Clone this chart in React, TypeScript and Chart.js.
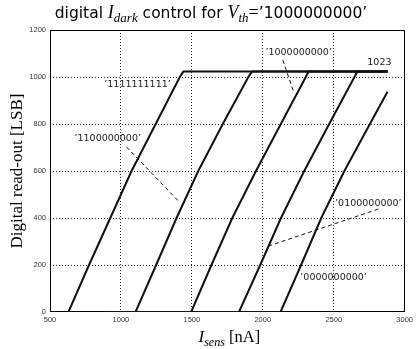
import { useEffect, useRef } from 'react';
import { Chart, registerables } from 'chart.js';

Chart.register(...registerables);

// ---- data (x: I_sens [nA], y: read-out [LSB]) ----
const seriesNames = ['1111111111', '1100000000', '1000000000', '0100000000', '0000000000'];
const c1X = [630, 775, 925, 1075, 1245, 1415, 1440, 2880];
const c1Y = [0, 200, 400, 600, 800, 1000, 1023, 1023];
const c2X = [890, 1103, 1248, 1392, 1545, 1718, 1898, 1924, 2880];
const c2Y = [0, 0, 200, 400, 600, 800, 1000, 1023, 1023];
const c3X = [890, 1495, 1638, 1785, 1952, 2127, 2303, 2323, 2880];
const c3Y = [0, 0, 200, 400, 600, 800, 1000, 1023, 1023];
const c4X = [890, 1832, 1982, 2128, 2292, 2468, 2646, 2667, 2880];
const c4Y = [0, 0, 200, 400, 600, 800, 1000, 1023, 1023];
const c5X = [890, 2125, 2270, 2412, 2575, 2755, 2879];
const c5Y = [0, 0, 200, 400, 600, 800, 937];

const xTicks = [500, 1000, 1500, 2000, 2500, 3000];
const yTicks = [0, 200, 400, 600, 800, 1000, 1200];

// annotation labels (data coords of text centre)
const labelTexts = ['’1111111111’', '’1100000000’', '’1000000000’', '’0100000000’', '’0000000000’', '1023'];
const labelX = [1117, 907, 2253, 2744, 2499, 2822];
const labelY = [966, 740, 1102, 460, 145, 1060];
// leader lines (data coords)
const leaderX1 = [1040, 2141, 2814];
const leaderY1 = [702, 1072, 438];
const leaderX2 = [1412, 2218, 2022];
const leaderY2 = [468, 936, 277];

const SANS = '"Liberation Sans", Arial, sans-serif';
const LABEL_SANS = '"DejaVu Sans", sans-serif';
const SERIF = '"Liberation Serif", "Times New Roman", serif';

const toPts = (xs: number[], ys: number[]) => xs.map((x, i) => ({ x, y: ys[i] }));

function drawParts(ctx: CanvasRenderingContext2D, parts: { t: string; f: string; dy: number }[], cx: number, baseline: number) {
  ctx.save();
  ctx.fillStyle = '#000';
  ctx.textAlign = 'left';
  ctx.textBaseline = 'alphabetic';
  let total = 0;
  const widths = parts.map((p) => {
    ctx.font = p.f;
    const w = ctx.measureText(p.t).width;
    total += w;
    return w;
  });
  let x = cx - total / 2;
  parts.forEach((p, i) => {
    ctx.font = p.f;
    ctx.fillText(p.t, x, baseline + p.dy);
    x += widths[i];
  });
  ctx.restore();
}

const textPlugin = {
  id: 'customText',
  beforeDatasetsDraw(chart: any) {
    const { ctx, chartArea: a } = chart;
    ctx.save();
    ctx.strokeStyle = '#000';
    ctx.lineWidth = 1;
    ctx.strokeRect(Math.round(a.left) + 0.5, Math.round(a.top) + 0.5, Math.round(a.right - a.left) - 1, Math.round(a.bottom - a.top) - 1);
    ctx.restore();
  },
  afterDatasetsDraw(chart: any) {
    const { ctx, chartArea: a } = chart;
    const xs = chart.scales.x;
    const ys = chart.scales.y;
    ctx.save();
    ctx.strokeStyle = '#111';
    ctx.lineWidth = 1;
    ctx.setLineDash([4, 3]);
    for (let i = 0; i < leaderX1.length; i++) {
      ctx.beginPath();
      ctx.moveTo(xs.getPixelForValue(leaderX1[i]), ys.getPixelForValue(leaderY1[i]));
      ctx.lineTo(xs.getPixelForValue(leaderX2[i]), ys.getPixelForValue(leaderY2[i]));
      ctx.stroke();
    }
    ctx.setLineDash([]);
    ctx.fillStyle = '#222';
    ctx.font = `9.5px ${LABEL_SANS}`;
    ctx.textAlign = 'center';
    ctx.textBaseline = 'middle';
    for (let i = 0; i < labelTexts.length; i++) {
      ctx.fillText(labelTexts[i], xs.getPixelForValue(labelX[i]), ys.getPixelForValue(labelY[i]));
    }
    ctx.restore();

    const parts = [
      { t: 'digital ', f: `15.5px ${LABEL_SANS}`, dy: 0 },
      { t: 'I', f: `italic 18px ${SERIF}`, dy: 0 },
      { t: 'dark', f: `italic 13px ${SERIF}`, dy: 4 },
      { t: ' control for ', f: `15.5px ${LABEL_SANS}`, dy: 0 },
      { t: 'V', f: `italic 18px ${SERIF}`, dy: 0 },
      { t: 'th', f: `italic 13px ${SERIF}`, dy: 4 },
      { t: '=', f: `18px ${SERIF}`, dy: 0 },
      { t: '’1000000000’', f: `15.5px ${LABEL_SANS}`, dy: 0 },
    ];
    drawParts(ctx, parts, 211, 18);

    const xparts = [
      { t: 'I', f: `italic 17px ${SERIF}`, dy: 0 },
      { t: 'sens', f: `italic 12px ${SERIF}`, dy: 4 },
      { t: ' [nA]', f: `16.5px ${SERIF}`, dy: 0 },
    ];
    drawParts(ctx, xparts, (a.left + a.right) / 2 + 2, 342);

    ctx.save();
    ctx.translate(22, (a.top + a.bottom) / 2);
    ctx.rotate(-Math.PI / 2);
    ctx.font = `17px ${SERIF}`;
    ctx.fillStyle = '#000';
    ctx.textAlign = 'center';
    ctx.textBaseline = 'alphabetic';
    ctx.fillText('Digital read-out [LSB]', 0, 0);
    ctx.restore();
  },
};

export default function App() {
  const ref = useRef<HTMLCanvasElement | null>(null);
  useEffect(() => {
    document.body.style.margin = '0';
    if (!ref.current) return;
    const allX = [c1X, c2X, c3X, c4X, c5X];
    const allY = [c1Y, c2Y, c3Y, c4Y, c5Y];
    const edgeColor = (edges: number[]) => (c: any) => (edges.includes(c.tick?.value) ? 'rgba(0,0,0,0)' : '#222');
    const chart = new Chart(ref.current, {
      type: 'line',
      data: {
        datasets: seriesNames.map((n, i) => ({
          label: n,
          data: toPts(allX[i], allY[i]),
          borderColor: '#111',
          borderWidth: 2,
          pointRadius: 0,
          fill: false,
          tension: 0,
        })),
      },
      options: {
        responsive: false,
        animation: false,
        layout: { padding: { top: 30, right: 9.5, left: 0, bottom: 0 } },
        plugins: { legend: { display: false }, tooltip: { enabled: false }, title: { display: false } },
        scales: {
          x: {
            type: 'linear',
            min: xTicks[0],
            max: xTicks[xTicks.length - 1],
            afterBuildTicks: (s: any) => { s.ticks = xTicks.map((v) => ({ value: v })); },
            afterFit: (s: any) => { s.height = 37; },
            ticks: { font: { size: 7.5, family: SANS }, color: '#333', padding: 3, maxRotation: 0, autoSkip: false, callback: (v: any) => String(v) },
            grid: { color: edgeColor([500, 3000]), lineWidth: 1, drawTicks: false },
            border: { display: false, dash: [1, 2] },
          },
          y: {
            type: 'linear',
            min: yTicks[0],
            max: yTicks[yTicks.length - 1],
            afterBuildTicks: (s: any) => { s.ticks = yTicks.map((v) => ({ value: v })); },
            afterFit: (s: any) => { s.width = 50; },
            ticks: { font: { size: 7.5, family: SANS }, color: '#333', padding: 4, callback: (v: any) => String(v) },
            grid: { color: edgeColor([0, 1200]), lineWidth: 1, drawTicks: false },
            border: { display: false, dash: [1, 2] },
          },
        },
      },
      plugins: [textPlugin],
    });
    return () => chart.destroy();
  }, []);
  return <canvas ref={ref} width={416} height={349} style={{ display: 'block', width: 416, height: 349 }} />;
}
